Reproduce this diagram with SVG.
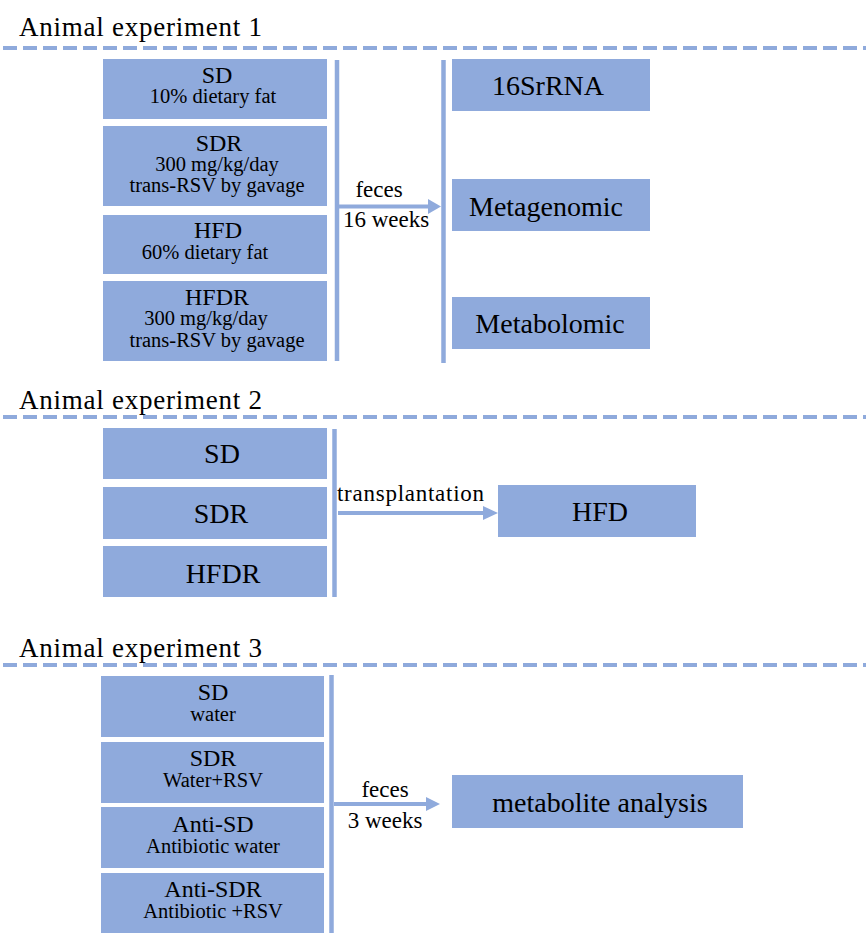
<svg xmlns="http://www.w3.org/2000/svg" width="866" height="936" viewBox="0 0 866 936" font-family="'Liberation Serif','Times New Roman','DejaVu Serif',serif">
<style>
text{font-family:'Liberation Serif','Times New Roman','DejaVu Serif',serif;fill:#000}
.box{fill:#8FAADC}
.hdr{font-size:27px}
.t{font-size:24px;text-anchor:middle}
.s{font-size:20.5px;text-anchor:middle}
.big{font-size:28px;text-anchor:middle}
.lab{font-size:23px;text-anchor:middle}
.dash{stroke:#8FAADC;stroke-width:4;stroke-dasharray:14 6;fill:none}
.bar{stroke:#8FAADC;stroke-width:4.5;fill:none}
.arr{stroke:#8FAADC;stroke-width:4;fill:none}
.head{fill:#8FAADC}
</style>
<rect width="866" height="936" fill="#fff"/>

<g id="header1"><text class="hdr" x="19" y="36" textLength="243" lengthAdjust="spacing">Animal experiment 1</text><line class="dash" x1="3" y1="48" x2="866" y2="48"/></g>
<g id="header2"><text class="hdr" x="19" y="409" textLength="243" lengthAdjust="spacing">Animal experiment 2</text><line class="dash" x1="3" y1="417" x2="866" y2="417"/></g>
<g id="header3"><text class="hdr" x="19" y="657" textLength="243" lengthAdjust="spacing">Animal experiment 3</text><line class="dash" x1="3" y1="665" x2="866" y2="665"/></g>

<!-- Experiment 1 -->
<g id="e1-sd"><rect class="box" x="103" y="59" width="224" height="60"/><text class="t" x="217" y="83">SD</text><text class="s" x="213" y="103">10% dietary fat</text></g>
<g id="e1-sdr"><rect class="box" x="103" y="126" width="224" height="80"/><text class="t" x="219" y="151">SDR</text><text class="s" x="217" y="171">300 mg/kg/day</text><text class="s" x="217" y="192">trans-RSV by gavage</text></g>
<g id="e1-hfd"><rect class="box" x="103" y="215" width="224" height="59"/><text class="t" x="218" y="238">HFD</text><text class="s" x="205" y="259">60% dietary fat</text></g>
<g id="e1-hfdr"><rect class="box" x="103" y="281" width="224" height="80"/><text class="t" x="217" y="305">HFDR</text><text class="s" x="206" y="325">300 mg/kg/day</text><text class="s" x="217" y="347">trans-RSV by gavage</text></g>
<g id="e1-16s"><rect class="box" x="452" y="59" width="198" height="52"/><text class="big" x="548" y="95">16SrRNA</text></g>
<g id="e1-meta"><rect class="box" x="452" y="179" width="198" height="52"/><text class="big" x="546" y="216">Metagenomic</text></g>
<g id="e1-metab"><rect class="box" x="452" y="297" width="198" height="52"/><text class="big" x="550" y="333">Metabolomic</text></g>

<!-- Experiment 2 -->
<g id="e2-sd"><rect class="box" x="103" y="428" width="224" height="51"/><text class="big" x="222" y="463">SD</text></g>
<g id="e2-sdr"><rect class="box" x="103" y="487" width="224" height="52"/><text class="big" x="221" y="523">SDR</text></g>
<g id="e2-hfdr"><rect class="box" x="103" y="546" width="224" height="51"/><text class="big" x="223" y="583">HFDR</text></g>
<g id="e2-hfd"><rect class="box" x="498" y="485" width="198" height="52"/><text class="big" x="600" y="521">HFD</text></g>

<!-- Experiment 3 -->
<g id="e3-sd"><rect class="box" x="101" y="676" width="223" height="61"/><text class="t" x="213" y="700">SD</text><text class="s" x="213" y="721">water</text></g>
<g id="e3-sdr"><rect class="box" x="101" y="742" width="223" height="61"/><text class="t" x="213" y="766">SDR</text><text class="s" x="213" y="787">Water+RSV</text></g>
<g id="e3-antisd"><rect class="box" x="101" y="807" width="223" height="61"/><text class="t" x="213" y="832">Anti-SD</text><text class="s" x="213" y="853">Antibiotic water</text></g>
<g id="e3-antisdr"><rect class="box" x="101" y="873" width="223" height="60"/><text class="t" x="213" y="897">Anti-SDR</text><text class="s" x="213" y="918">Antibiotic +RSV</text></g>
<g id="e3-analysis"><rect class="box" x="452" y="775" width="291" height="53"/><text class="big" x="600" y="812">metabolite analysis</text></g>

<g id="connectors">
<line class="bar" x1="337" y1="60" x2="337" y2="361"/>
<line class="bar" x1="443.5" y1="60" x2="443.5" y2="363"/>
<line class="arr" x1="339" y1="206.5" x2="429" y2="206.5"/>
<polygon class="head" points="428,199 441,206.5 428,214"/>
<text class="lab" x="379" y="197">feces</text>
<text class="lab" x="386" y="227">16 weeks</text>

<line class="bar" x1="334.5" y1="429" x2="334.5" y2="597"/>
<line class="arr" x1="338" y1="513" x2="485" y2="513"/>
<polygon class="head" points="483,506 498,513 483,520"/>
<text class="lab" x="337" y="501" style="text-anchor:start" textLength="147" lengthAdjust="spacing">transplantation</text>

<line class="bar" x1="331.5" y1="675" x2="331.5" y2="933"/>
<line class="arr" x1="334" y1="804" x2="427" y2="804"/>
<polygon class="head" points="426,797 440,804 426,811"/>
<text class="lab" x="385" y="797">feces</text>
<text class="lab" x="385" y="828">3 weeks</text>
</g>
</svg>
